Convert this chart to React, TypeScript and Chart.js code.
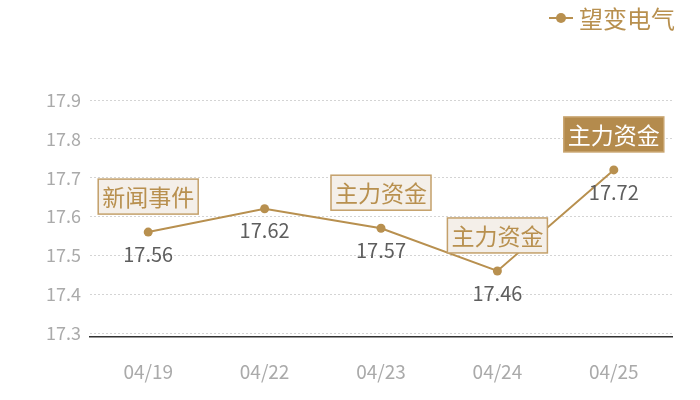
import { useEffect, useRef } from 'react'
import { Chart, registerables } from 'chart.js'

Chart.register(...registerables)

const SERIES_NAME = '望变电气'
const dates = ['04/19', '04/22', '04/23', '04/24', '04/25']
const prices = [17.56, 17.62, 17.57, 17.46, 17.72]
const events = ['新闻事件', '', '主力资金', '主力资金', '主力资金']
const highlightIndex = 4
const yTicks = [17.3, 17.4, 17.5, 17.6, 17.7, 17.8, 17.9]

const GOLD = '#b8904f'
const FONT = '"Noto Sans CJK SC", "Noto Sans", sans-serif'

const markPlugin = {
  id: 'marks',
  afterDatasetsDraw(chart: Chart) {
    const ctx = chart.ctx
    const meta = chart.getDatasetMeta(0)
    ctx.save()
    meta.data.forEach((pt: any, i: number) => {
      const x = pt.x
      const y = pt.y
      // value under the point
      ctx.font = `20px ${FONT}`
      ctx.fillStyle = '#5e5e5e'
      ctx.textAlign = 'center'
      ctx.textBaseline = 'middle'
      ctx.fillText(prices[i].toFixed(2), x, y + 22)

      const txt = events[i]
      if (!txt) return
      ctx.font = `23px ${FONT}`
      const w = ctx.measureText(txt).width + 8
      const h = 35
      const bx = x - w / 2
      const by = y - 18 - h
      const hi = i === highlightIndex
      ctx.fillStyle = hi ? '#b48b4d' : '#f4efe9'
      ctx.fillRect(bx, by, w, h)
      ctx.strokeStyle = hi ? '#c9a56f' : '#c4a06a'
      ctx.lineWidth = 1.5
      ctx.strokeRect(bx, by, w, h)
      ctx.fillStyle = hi ? '#ffffff' : GOLD
      ctx.fillText(txt, x, by + h / 2 + 1)
    })

    // legend, top right
    const ly = 18
    ctx.strokeStyle = GOLD
    ctx.lineWidth = 2
    ctx.beginPath()
    ctx.moveTo(549, ly)
    ctx.lineTo(573, ly)
    ctx.stroke()
    ctx.fillStyle = GOLD
    ctx.beginPath()
    ctx.arc(561, ly, 5, 0, Math.PI * 2)
    ctx.fill()
    ctx.font = `24px ${FONT}`
    ctx.textAlign = 'left'
    ctx.textBaseline = 'middle'
    ctx.fillText(SERIES_NAME, 579, ly + 1)
    ctx.restore()
  },
}

export default function App() {
  const canvasRef = useRef<HTMLCanvasElement>(null)
  const chartRef = useRef<Chart | null>(null)

  useEffect(() => {
    if (!canvasRef.current) return
    chartRef.current?.destroy()

    chartRef.current = new Chart(canvasRef.current, {
      type: 'line',
      data: {
        labels: dates,
        datasets: [{
          label: SERIES_NAME,
          data: prices,
          borderColor: GOLD,
          backgroundColor: GOLD,
          borderWidth: 2,
          pointRadius: 4.5,
          pointBackgroundColor: GOLD,
          pointBorderWidth: 0,
          tension: 0,
        }],
      },
      options: {
        animation: false,
        responsive: true,
        maintainAspectRatio: false,
        layout: { padding: { top: 100, right: 28, left: 0, bottom: 0 } },
        plugins: { legend: { display: false }, tooltip: { enabled: false } },
        scales: {
          x: {
            offset: true,
            grid: { display: false, drawTicks: false },
            border: { display: true, color: '#333333', width: 1.5 },
            ticks: { color: '#aaaaaa', padding: 23, font: { size: 19, family: FONT } },
            afterFit: (s: any) => { s.height = 63 },
          },
          y: {
            min: 17.29,
            max: 17.9,
            afterBuildTicks: (s: any) => { s.ticks = yTicks.map(v => ({ value: v })) },
            grid: { color: '#d4d4d4', lineWidth: 1, drawTicks: false },
            border: { display: false, dash: [2, 2] },
            ticks: {
              color: '#aaaaaa',
              padding: 9,
              font: { size: 18, family: FONT },
              callback: (v: any) => Number(v).toFixed(1),
            },
            afterFit: (s: any) => { s.width = 90 },
          },
        },
      },
      plugins: [markPlugin],
    })

    return () => { chartRef.current?.destroy() }
  }, [])

  return (
    <div style={{ position: 'absolute', left: 0, top: 0, width: 700, height: 400, background: '#fff' }}>
      <canvas ref={canvasRef} />
    </div>
  )
}
